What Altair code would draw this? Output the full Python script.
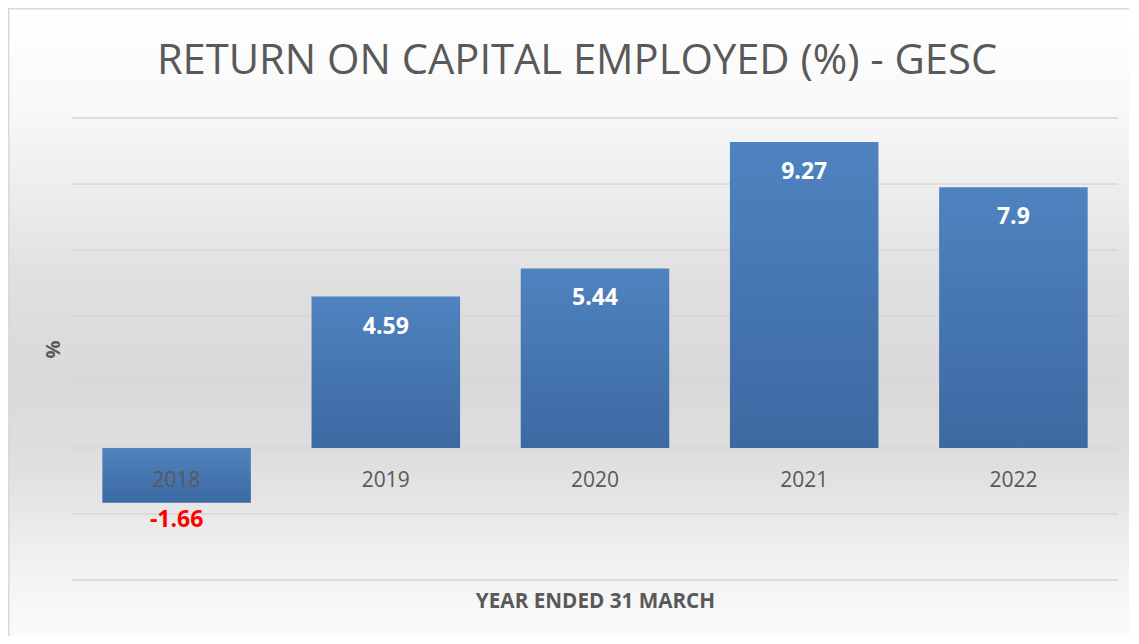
import altair as alt
import pandas as pd

years = ["2018", "2019", "2020", "2021", "2022"]
values = [-1.66, 4.59, 5.44, 9.27, 7.9]
grid_values = [-4, -2, 0, 2, 4, 6, 8, 10]
title_text = "RETURN ON CAPITAL EMPLOYED (%) - GESC"

df = pd.DataFrame({"year": years, "value": values})
grid_df = pd.DataFrame({"g": grid_values})
bg_df = pd.DataFrame({"a": [0]})
title_df = pd.DataFrame({"t": [title_text]})

W, H = 1046, 462
PAD = {"left": 64, "top": 110, "right": 11, "bottom": 56}

yscale = alt.Scale(domain=[-4, 10], nice=False, zero=False)
xscale = alt.Scale(paddingInner=0.29, paddingOuter=0.145)
FONT = "Open Sans"
GRAY = "#595959"

yaxis = alt.Axis(
    labels=False, ticks=False, domain=False, grid=False,
    titleFont=FONT, titleFontSize=20, titleFontWeight="bold",
    titleColor=GRAY, titleAngle=-90, titleX=-19, titleY=231,
    titleAlign="center", titleBaseline="middle", zindex=1,
)

bg_grad = alt.Gradient(
    gradient="linear", x1=0, x2=0, y1=0, y2=1,
    stops=[
        alt.GradientStop(offset=0.0, color="#ffffff"),
        alt.GradientStop(offset=0.15, color="#f8f8f8"),
        alt.GradientStop(offset=0.28, color="#ececec"),
        alt.GradientStop(offset=0.40, color="#e0e0e0"),
        alt.GradientStop(offset=0.55, color="#d9d9d9"),
        alt.GradientStop(offset=0.68, color="#dfdfdf"),
        alt.GradientStop(offset=0.80, color="#eeeeee"),
        alt.GradientStop(offset=0.90, color="#f8f8f8"),
        alt.GradientStop(offset=1.0, color="#ffffff"),
    ],
)

bar_grad = alt.Gradient(
    gradient="linear", x1=0, x2=0, y1=0, y2=1,
    stops=[
        alt.GradientStop(offset=0.0, color="#4f83bf"),
        alt.GradientStop(offset=1.0, color="#3c69a2"),
    ],
)

bg = alt.Chart(bg_df).mark_rect(
    color=bg_grad, stroke="#d9d9d9", strokeWidth=1.5
).encode(
    x=alt.value(-PAD["left"] + 0.75),
    x2=alt.value(W + 60),
    y=alt.value(-PAD["top"] + 0.75),
    y2=alt.value(H + 100),
)

grid = alt.Chart(grid_df).mark_rule(color="#d6d6d6", strokeWidth=1.5).encode(
    y=alt.Y("g:Q", scale=yscale, axis=yaxis, title="%"),
)

bars = alt.Chart(df).mark_bar(color=bar_grad).encode(
    x=alt.X(
        "year:N", scale=xscale, sort=years,
        axis=alt.Axis(
            title="YEAR ENDED 31 MARCH", orient="bottom", offset=-131,
            domain=False, ticks=False, tickSize=0, labelAngle=0,
            labelFont=FONT, labelFontSize=21, labelColor=GRAY,
            labelPadding=31, labelBaseline="middle",
            titleFont=FONT, titleFontSize=20.7, titleFontWeight="bold",
            titleColor=GRAY, titleY=152, titleBaseline="middle",
            zindex=1,
        ),
    ),
    y=alt.Y("value:Q", scale=yscale, title="%", axis=yaxis),
)

base_lab = alt.Chart(df).transform_calculate(label="'' + datum.value")

pos_labels = base_lab.transform_filter("datum.value >= 0").mark_text(
    font=FONT, fontSize=23, fontWeight="bold", color="#ffffff",
    baseline="middle", dy=30,
).encode(
    x=alt.X("year:N", scale=xscale, sort=years),
    y=alt.Y("value:Q", scale=yscale, title="%", axis=yaxis),
    text=alt.Text("label:N"),
)

neg_labels = base_lab.transform_filter("datum.value < 0").mark_text(
    font=FONT, fontSize=23, fontWeight="bold", color="#ff0000",
    baseline="middle", dy=17,
).encode(
    x=alt.X("year:N", scale=xscale, sort=years),
    y=alt.Y("value:Q", scale=yscale, title="%", axis=yaxis),
    text=alt.Text("label:N"),
)

title = alt.Chart(title_df).mark_text(
    font=FONT, fontSize=41.7, fontWeight="normal", color=GRAY,
    align="center", baseline="alphabetic",
).encode(
    x=alt.value(577 - 72),
    y=alt.value(74 - 118),
    text=alt.Text("t:N"),
)

chart = alt.layer(bg, grid, bars, pos_labels, neg_labels, title).properties(
    width=W, height=H,
    autosize=alt.AutoSizeParams(type="none"),
    padding=PAD,
).configure_view(stroke=None).configure(background="#ffffff")

chart.save("out.html", embed_options={"renderer": "svg", "actions": False})
